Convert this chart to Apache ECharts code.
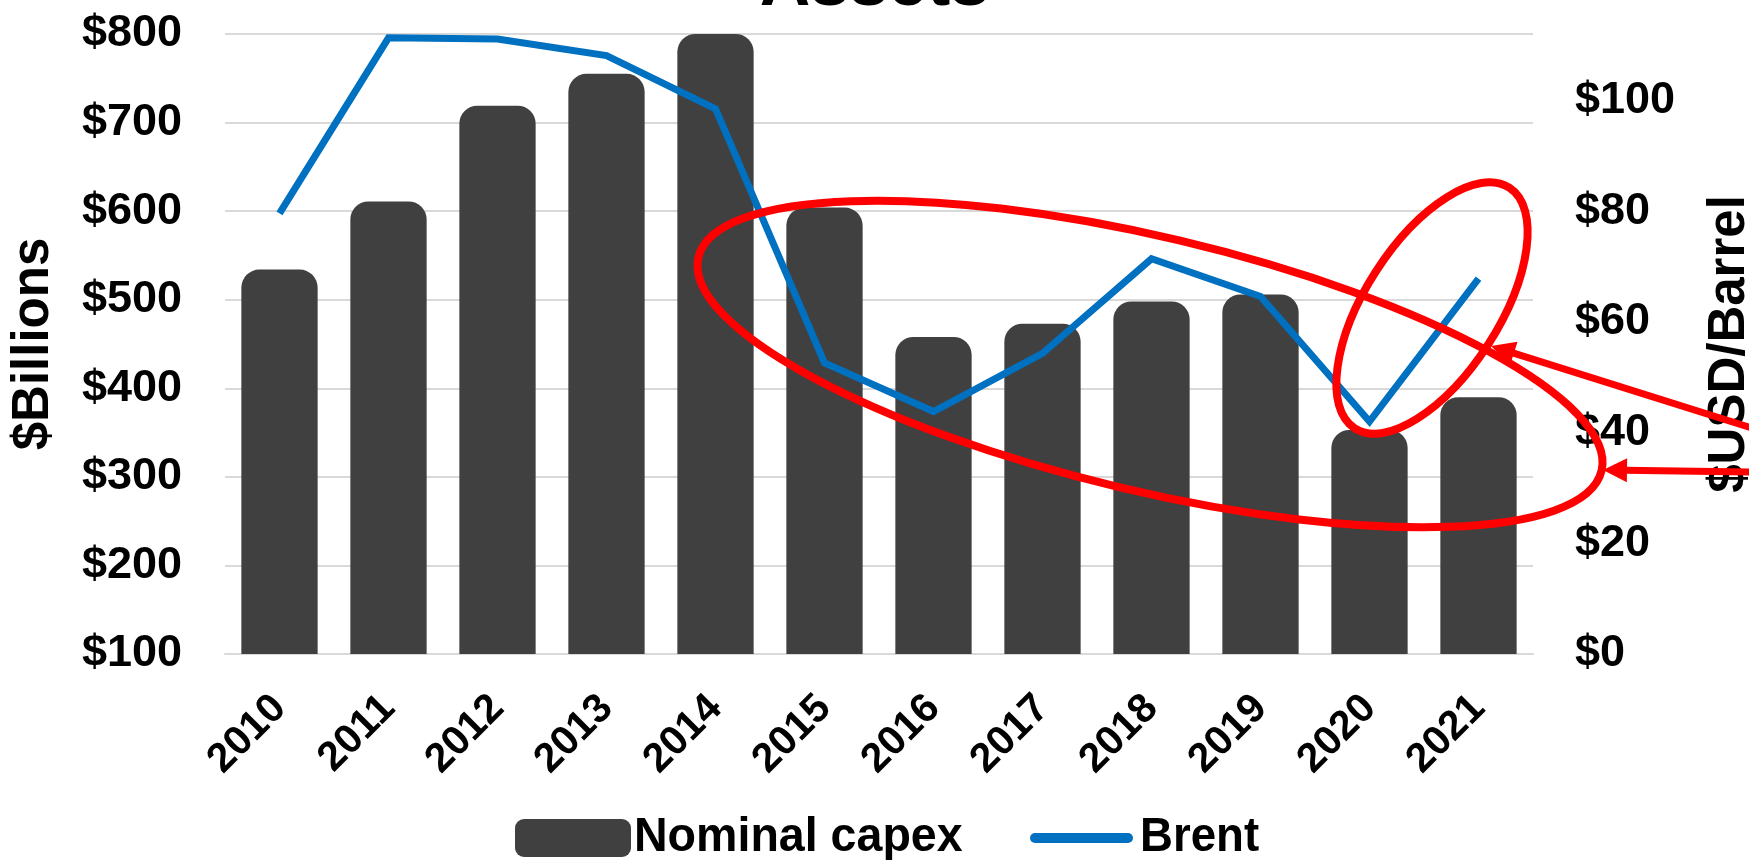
<!DOCTYPE html>
<html>
<head>
<meta charset="utf-8">
<script src="https://cdn.jsdelivr.net/npm/echarts@6/dist/echarts.min.js"></script>
<style>
  html, body { margin: 0; padding: 0; background: #ffffff; }
  #chart { width: 1749px; height: 860px; }
</style>
</head>
<body>
<div id="chart"></div>
<script>
// Upstream capital spending vs. Brent crude price, 2010-2021
const years = ['2010', '2011', '2012', '2013', '2014', '2015', '2016', '2017', '2018', '2019', '2020', '2021'];
const capex = [534, 611, 719, 755, 800, 604, 458, 473, 498, 506, 353, 390];      // $ billions
const brent = [79.6, 111.3, 111.1, 108.1, 98.5, 52.6, 43.8, 54.3, 71.4, 64.6, 42.0, 67.8]; // $ / barrel
const capexTicks = [100, 200, 300, 400, 500, 600, 700, 800];
const brentTicks = [0, 20, 40, 60, 80, 100];
const brentAxisTop = 112;
const seriesNames = ['Nominal capex', 'Brent'];

const FONT = "'Liberation Sans', Arial, Helvetica, sans-serif";
const RED = '#ff0000';
const BAR_COLOR = '#404040';
const LINE_COLOR = '#0070C0';

// arrow from tail to tip with a filled triangular head
function arrow(x1, y1, x2, y2, headLen, headHalf) {
  const dx = x2 - x1, dy = y2 - y1, len = Math.hypot(dx, dy);
  const ux = dx / len, uy = dy / len, px = -uy, py = ux;
  const bx = x2 - ux * headLen, by = y2 - uy * headLen;
  return [
    { type: 'line', shape: { x1: x1, y1: y1, x2: bx + ux * 2, y2: by + uy * 2 },
      style: { stroke: RED, lineWidth: 7 }, z: 100 },
    { type: 'polygon', shape: { points: [[x2, y2], [bx + px * headHalf, by + py * headHalf], [bx - px * headHalf, by - py * headHalf]] },
      style: { fill: RED }, z: 100 }
  ];
}

// slightly condensed bold legend label
function legendLabel(text, x, y, squeeze) {
  return { type: 'text', x: x, y: y, scaleX: squeeze, z: 50,
    style: { text: text, fill: '#000000', font: 'bold 48px ' + FONT, verticalAlign: 'middle' } };
}

const chart = echarts.init(document.getElementById('chart'), null, { renderer: 'canvas' });

const option = {
  backgroundColor: '#ffffff',
  animation: false,
  textStyle: { fontFamily: FONT },
  title: {
    text: 'Assets',
    left: 'center',
    top: -54,
    textStyle: { fontFamily: FONT, fontWeight: 'bold', fontSize: 70, color: '#000000' }
  },
  grid: { left: 225, right: 216, top: 34, bottom: 206, containLabel: false, outerBoundsMode: 'none' },
  xAxis: {
    type: 'category',
    data: years,
    axisLine: { show: true, lineStyle: { color: '#d9d9d9', width: 2 } },
    axisTick: { show: false },
    axisLabel: {
      rotate: 45,
      margin: 48,
      fontFamily: FONT,
      fontWeight: 'bold',
      fontSize: 41,
      color: '#000000',
      interval: 0
    }
  },
  yAxis: [
    {
      type: 'value',
      min: capexTicks[0],
      max: capexTicks[capexTicks.length - 1],
      interval: capexTicks[1] - capexTicks[0],
      name: '$Billions',
      nameLocation: 'middle',
      nameRotate: 90,
      nameGap: 166,
      nameTextStyle: { fontFamily: FONT, fontWeight: 'bold', fontSize: 51, color: '#000000' },
      axisLine: { show: false },
      axisTick: { show: false },
      splitLine: { show: true, lineStyle: { color: '#d9d9d9', width: 2 } },
      axisLabel: {
        margin: 43,
        fontFamily: FONT,
        fontWeight: 'bold',
        fontSize: 45,
        color: '#000000',
        formatter: v => '$' + v
      }
    },
    {
      type: 'value',
      min: brentTicks[0],
      max: brentAxisTop,
      interval: brentTicks[1] - brentTicks[0],
      position: 'right',
      name: '$USD/Barrel',
      nameLocation: 'middle',
      nameRotate: 90,
      nameGap: 171,
      nameTextStyle: { fontFamily: FONT, fontWeight: 'bold', fontSize: 51, color: '#000000' },
      axisLine: { show: false },
      axisTick: { show: false },
      splitLine: { show: false },
      axisLabel: {
        margin: 42,
        fontFamily: FONT,
        fontWeight: 'bold',
        fontSize: 45,
        color: '#000000',
        formatter: v => (brentTicks.indexOf(v) >= 0 ? '$' + v : '')
      }
    }
  ],
  series: [
    {
      name: seriesNames[0],
      type: 'bar',
      yAxisIndex: 0,
      data: capex,
      barWidth: '70%',
      clip: true,
      itemStyle: { color: BAR_COLOR, borderRadius: [18, 18, 0, 0] },
      z: 2
    },
    {
      name: seriesNames[1],
      type: 'line',
      yAxisIndex: 1,
      data: brent,
      symbol: 'none',
      color: LINE_COLOR,
      lineStyle: { color: LINE_COLOR, width: 7, join: 'miter' },
      z: 5
    }
  ],
  graphic: [
    // legend: bar swatch, line swatch and their labels
    { type: 'rect', x: 515, y: 819, shape: { width: 116, height: 38, r: 9 }, style: { fill: BAR_COLOR }, z: 50 },
    legendLabel(seriesNames[0], 634, 838, 0.97),
    { type: 'rect', x: 1030, y: 833, shape: { width: 103, height: 10, r: 5 }, style: { fill: LINE_COLOR }, z: 50 },
    legendLabel(seriesNames[1], 1140, 838, 0.95),
    // highlight around the post-2014 period
    { type: 'ellipse', x: 1150, y: 364, rotation: -0.232,
      shape: { cx: 0, cy: 0, rx: 464, ry: 127 },
      style: { fill: 'none', stroke: RED, lineWidth: 8 }, z: 100 },
    // highlight around the 2020-2021 rebound
    { type: 'ellipse', x: 1432, y: 308, rotation: 1.0,
      shape: { cx: 0, cy: 0, rx: 143, ry: 67 },
      style: { fill: 'none', stroke: RED, lineWidth: 8 }, z: 100 }
  ].concat(arrow(1752, 428, 1491, 346, 24, 12))
   .concat(arrow(1752, 472, 1603, 470, 24, 12))
};

chart.setOption(option);
</script>
</body>
</html>
